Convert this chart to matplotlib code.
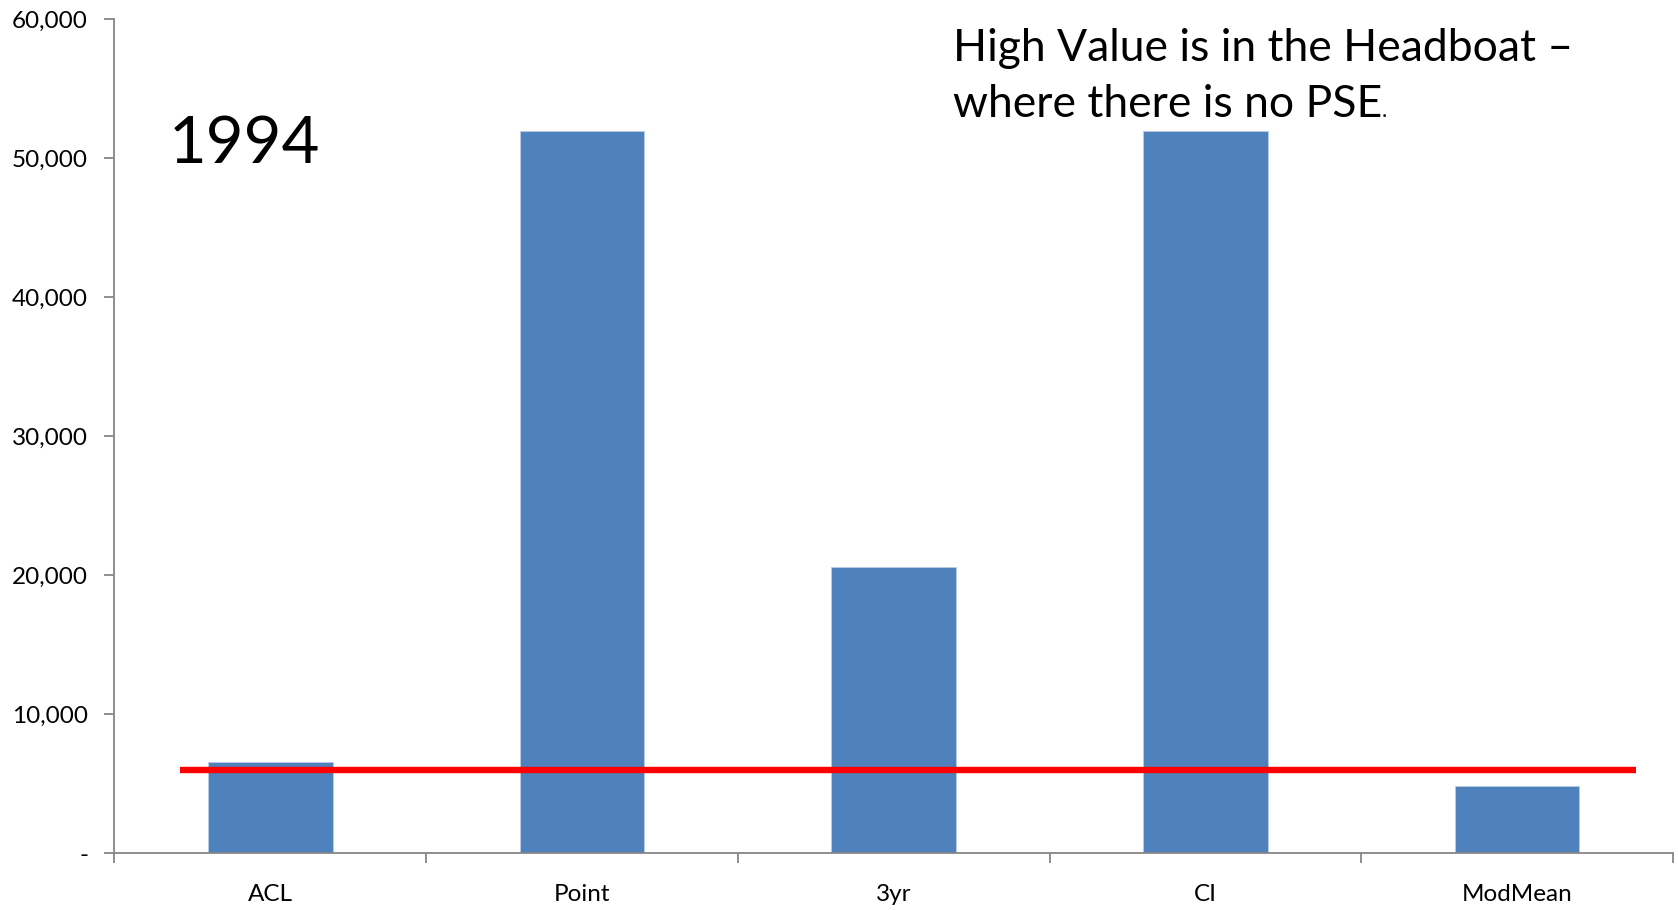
import matplotlib.pyplot as plt
import numpy as np
from matplotlib.ticker import FuncFormatter

plt.rcParams["font.family"] = ["Lato", "DejaVu Sans"]

# --- Data ----------------------------------------------------------------
categories = ["ACL", "Point", "3yr", "CI", "ModMean"]
values = [6550, 51950, 20550, 51950, 4850]
reference_level = 6000
year_label = "1994"
note_lines = ["High Value is in the Headboat \u2013", "where there is no PSE"]

# --- Figure --------------------------------------------------------------
fig = plt.figure(figsize=(16.78, 9.10), dpi=100)
ax = fig.add_axes([0.0682, 0.0626, 0.9288, 0.9162])

x = np.arange(len(categories))
ax.bar(x, values, width=0.4, color="#4F81BD", edgecolor="#B9CDE5",
       linewidth=0.6, zorder=2)
ax.hlines(reference_level, -0.29, 4.38, color="#FF0000", linewidth=4.6,
          zorder=3)

ax.set_xlim(-0.5, len(categories) - 0.5)
ax.set_ylim(0, 60000)

# axes styling
axis_grey = "#868686"
for side in ("top", "right"):
    ax.spines[side].set_visible(False)
for side in ("left", "bottom"):
    ax.spines[side].set_color(axis_grey)
    ax.spines[side].set_linewidth(1.3)

ax.set_yticks(np.arange(0, 60001, 10000))
ax.yaxis.set_major_formatter(
    FuncFormatter(lambda v, _: "-" if v == 0 else f"{int(v):,}"))
ax.tick_params(axis="y", direction="out", length=7, width=1.3,
               color=axis_grey, labelsize=17.5, pad=12)

ax.set_xticks(x)
ax.set_xticklabels(categories)
ax.set_xticks(np.arange(-0.5, len(categories)), minor=True)
ax.tick_params(axis="x", which="major", length=0, labelsize=17.5, pad=22)
ax.tick_params(axis="x", which="minor", direction="out", length=7,
               width=1.3, color=axis_grey)

# --- Annotations ---------------------------------------------------------
ax.text(-0.325, 49660, year_label, fontsize=47, va="baseline", ha="left")
ax.text(2.19, 57000, note_lines[0], fontsize=32, va="baseline", ha="left")
t2 = ax.text(2.19, 52950, note_lines[1], fontsize=32, va="baseline",
             ha="left")
ax.annotate(".", xy=(1, 0), xycoords=t2, xytext=(0, 3.2),
            textcoords="offset points", fontsize=16, va="bottom", ha="left")

fig.savefig("out.png", dpi=100)
